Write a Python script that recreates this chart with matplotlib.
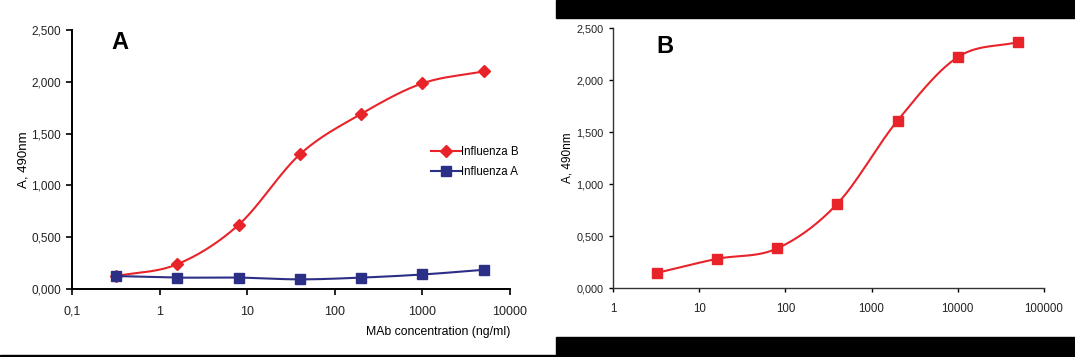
import numpy as np
import matplotlib
matplotlib.use("Agg")
import matplotlib.pyplot as plt
from matplotlib.patches import Rectangle
from matplotlib.ticker import FixedLocator, NullLocator

plt.rcParams['font.family'] = ['Liberation Sans', 'DejaVu Sans']

# panel A: concentration (ng/ml) and absorbance
conc_a = [0.32, 1.6, 8, 40, 200, 1000, 5000]
flu_b = [0.125, 0.24, 0.62, 1.30, 1.69, 1.985, 2.10]
flu_a = [0.125, 0.11, 0.11, 0.093, 0.11, 0.14, 0.185]

# panel B
conc_b = [3.2, 16, 80, 400, 2000, 10000, 50000]
resp_b = [0.144, 0.28, 0.38, 0.81, 1.61, 2.22, 2.365]

yticks = [0, 0.5, 1.0, 1.5, 2.0, 2.5]
ytick_labels = ['0,000', '0,500', '1,000', '1,500', '2,000', '2,500']
xticks_a = [0.1, 1, 10, 100, 1000, 10000]
xlabels_a = ['0,1', '1', '10', '100', '1000', '10000']
xticks_b = [1, 10, 100, 1000, 10000, 100000]
xlabels_b = ['1', '10', '100', '1000', '10000', '100000']

RED = '#e8232a'
NAVY = '#2c2f86'


def smooth(x, y, n=30):
    # catmull-rom through the points in log-x, like excel smoothed lines
    lx = np.log10(x)
    y = np.asarray(y, float)
    P = np.column_stack([lx, y])
    P = np.vstack([2 * P[0] - P[1], P, 2 * P[-1] - P[-2]])
    out = []
    t = np.linspace(0, 1, n)[:, None]
    for i in range(1, len(P) - 2):
        p0, p1, p2, p3 = P[i - 1], P[i], P[i + 1], P[i + 2]
        seg = 0.5 * ((2 * p1) + (-p0 + p2) * t + (2 * p0 - 5 * p1 + 4 * p2 - p3) * t ** 2
                     + (-p0 + 3 * p1 - 3 * p2 + p3) * t ** 3)
        out.append(seg)
    out = np.vstack(out)
    return 10 ** out[:, 0], out[:, 1]


def style_axes(ax, xticks, xlabels, fs=8.5):
    ax.set_xscale('log')
    ax.spines['top'].set_visible(False)
    ax.spines['right'].set_visible(False)
    ax.spines['left'].set_linewidth(1.4)
    ax.spines['bottom'].set_linewidth(1.4)
    ax.set_ylim(0, 2.5)
    ax.set_yticks(yticks)
    ax.set_yticklabels(ytick_labels, fontsize=fs, color='#222222')
    ax.xaxis.set_major_locator(FixedLocator(xticks))
    ax.xaxis.set_minor_locator(NullLocator())
    ax.set_xticklabels(xlabels, fontsize=fs + 0.5, color='#222222')
    ax.set_xlim(xticks[0], xticks[-1])
    ax.tick_params(direction='out', length=4, width=1.2)
    ax.tick_params(axis='y', pad=4)
    ax.tick_params(axis='x', pad=8)
    ax.patch.set_alpha(0)


fig = plt.figure(figsize=(10.75, 3.57), dpi=100)
fig.patch.set_facecolor('white')

# black frame pieces
fig.add_artist(Rectangle((0, 0), 556 / 1075, 2 / 357, transform=fig.transFigure, color='black'))
fig.add_artist(Rectangle((556 / 1075, 0), 1 - 556 / 1075, 20 / 357, transform=fig.transFigure, color='black'))
fig.add_artist(Rectangle((556 / 1075, 1 - 18 / 357), 1 - 556 / 1075, 18 / 357, transform=fig.transFigure, color='black'))

# panel A
ax1 = fig.add_axes([72 / 1075, 1 - 289 / 357, (510 - 72) / 1075, (289 - 30) / 357])
style_axes(ax1, xticks_a, xlabels_a)
sx, sy = smooth(conc_a, flu_b)
ax1.plot(sx, sy, color=RED, lw=1.5)
ax1.plot(conc_a, flu_b, 'D', color=RED, ms=6)
sx, sy = smooth(conc_a, flu_a)
ax1.plot(sx, sy, color=NAVY, lw=1.5)
ax1.plot(conc_a, flu_a, 's', color=NAVY, ms=7)
ax1.set_ylabel('A, 490nm', fontsize=9.5, labelpad=1.5)
ax1.set_xlabel('MAb concentration (ng/ml)', fontsize=8.8, loc='right', labelpad=6)
ax1.text(0.09, 0.95, 'A', transform=ax1.transAxes, fontsize=17, fontweight='bold', va='center')
h_b = ax1.plot([], [], color=RED, lw=1.5, marker='D', ms=6)[0]
h_a = ax1.plot([], [], color=NAVY, lw=1.5, marker='s', ms=7)[0]
ax1.legend([h_b, h_a], ['Influenza B', 'Influenza A'], loc='center left',
           bbox_to_anchor=(0.795, 0.49), frameon=False, fontsize=8.3,
           handlelength=2.6, handletextpad=0.05, labelspacing=0.75)

# panel B
ax2 = fig.add_axes([613 / 1075, 1 - 288 / 357, (1044 - 613) / 1075, (288 - 28) / 357])
style_axes(ax2, xticks_b, xlabels_b, fs=7.8)
for s in ['left', 'bottom']:
    ax2.spines[s].set_linewidth(1.0)
    ax2.spines[s].set_color('#333333')
ax2.tick_params(width=1.0, length=3)
sx, sy = smooth(conc_b, resp_b)
ax2.plot(sx, sy, color=RED, lw=1.5)
ax2.plot(conc_b, resp_b, 's', color=RED, ms=7)
ax2.set_ylabel('A, 490nm', fontsize=8.5, labelpad=1.5)
ax2.set_xlabel('MAb concentration (ng/ml)', fontsize=7.5, labelpad=8)
ax2.xaxis.set_label_coords((1032 - 613) / (1044 - 613), -0.20)
ax2.xaxis.label.set_horizontalalignment('right')
ax2.text(0.1, 0.93, 'B', transform=ax2.transAxes, fontsize=17, fontweight='bold', va='center')

fig.savefig('out.png', dpi=100)
